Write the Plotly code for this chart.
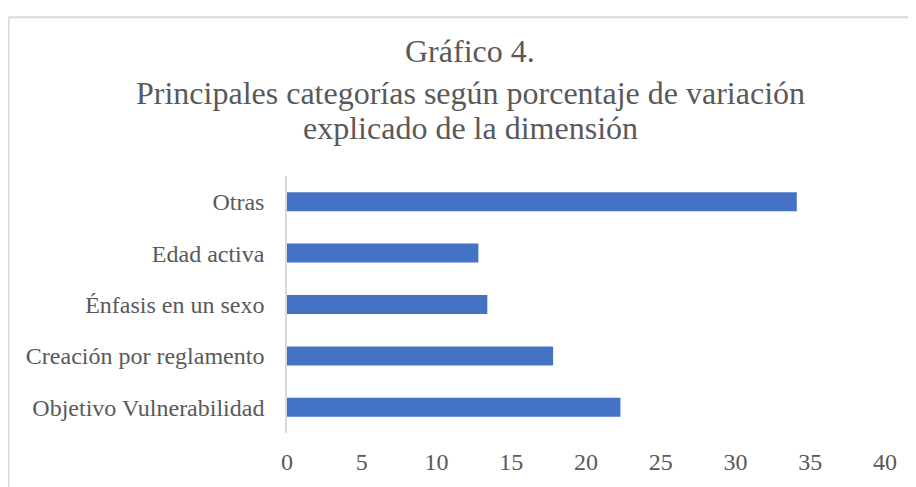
import plotly.graph_objects as go

categories = ["Objetivo Vulnerabilidad", "Creación por reglamento", "Énfasis en un sexo", "Edad activa", "Otras"]
values = [22.3, 17.8, 13.4, 12.8, 34.1]
x_ticks = [0, 5, 10, 15, 20, 25, 30, 35, 40]

OFF = 8  # page body margin
W, H = 916 - OFF, 487 - OFF
L, R, T, B = 287 - OFF, 31, 176 - OFF, 51
pw, ph = W - L - R, H - T - B

FONT = "Liberation Serif, Times New Roman, serif"
GRAY = "#595959"

fig = go.Figure(go.Bar(
    x=values, y=categories, orientation="h",
    marker=dict(color="#4472C4", line=dict(width=0)),
    width=0.37,
))

fig.update_layout(
    width=W, height=H,
    margin=dict(l=L, r=R, t=T, b=B),
    paper_bgcolor="white", plot_bgcolor="white",
    showlegend=False,
    font=dict(family=FONT, color=GRAY, size=24),
    xaxis=dict(range=[0, 40], tickvals=x_ticks, showgrid=False, zeroline=False,
               showline=False, ticks="", tickfont=dict(size=24, color=GRAY),
               ticklabelstandoff=12, fixedrange=True),
    yaxis=dict(showgrid=False, zeroline=False, showline=True, linecolor="#D9D9D9",
               linewidth=1.5, ticks="", tickfont=dict(size=24, color=GRAY),
               ticklabelstandoff=16, fixedrange=True, range=[-0.5, 4.5]),
)

def px_x(p):
    return (p - OFF - L) / pw

def px_y(p):
    return (H - B - (p - OFF)) / ph

title_lines = [("Gráfico 4.", 50), ("Principales categorías según porcentaje de variación", 92),
               ("explicado de la dimensión", 127)]
for txt, yc in title_lines:
    fig.add_annotation(text=txt, xref="paper", yref="paper", x=px_x(470), y=px_y(yc),
                       xanchor="center", yanchor="middle", showarrow=False,
                       font=dict(family=FONT, size=32, color=GRAY))

# chart border (light gray)
fig.add_shape(type="line", xref="paper", yref="paper", x0=px_x(8.5), x1=px_x(930),
              y0=px_y(15.5), y1=px_y(15.5), line=dict(color="#D9D9D9", width=2))
fig.add_shape(type="line", xref="paper", yref="paper", x0=px_x(8.5), x1=px_x(8.5),
              y0=px_y(15.5), y1=px_y(500), line=dict(color="#D9D9D9", width=2))

fig.write_html("out.html")
